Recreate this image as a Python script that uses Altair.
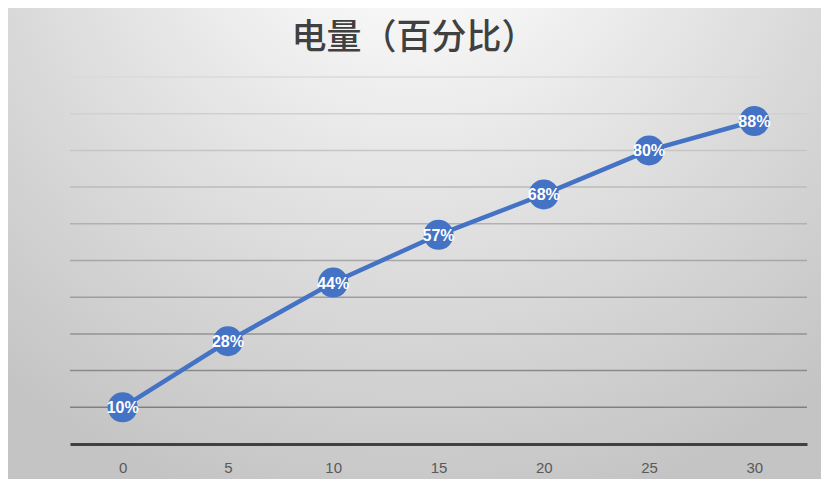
import altair as alt
import pandas as pd

minutes = [0, 5, 10, 15, 20, 25, 30]
charge = [10, 28, 44, 57, 68, 80, 88]
labels = ["10%", "28%", "44%", "57%", "68%", "80%", "88%"]
grid_values = [10, 20, 30, 40, 50, 60, 70, 80, 90, 100]
title_text = "电量（百分比）"

df = pd.DataFrame({"t": minutes, "v": charge, "lab": labels})
gdf = pd.DataFrame({"g": grid_values})
one = pd.DataFrame({"title": [title_text]})

W, H = 737, 367
PL, PT, PR, PB = 62, 69, 14, 35

xenc = alt.X(
    "t:O",
    scale=alt.Scale(type="point", padding=0.5),
    axis=alt.Axis(
        labelAngle=0, ticks=False, domainColor="#404040", domainWidth=3,
        labelColor="#595959", labelFontSize=15, labelFont="Liberation Sans",
        labelPadding=16, title=None, grid=False, zindex=1,
    ),
)
yscale = alt.Scale(domain=[0, 100], nice=False, zero=True)

bg = alt.Chart(one).mark_rect(
    fill={
        "gradient": "radial",
        "x1": 0.5, "y1": 0.05, "r1": 0,
        "x2": 0.5, "y2": 0.05, "r2": 0.8,
        "stops": [
            {"offset": 0, "color": "#ffffff"},
            {"offset": 0.2, "color": "#f7f7f7"},
            {"offset": 0.45, "color": "#e6e6e6"},
            {"offset": 0.7, "color": "#d6d6d6"},
            {"offset": 1, "color": "#c4c4c4"},
        ],
    }
).encode(
    x=alt.value(-PL), x2=alt.value(W + PR),
    y=alt.value(-PT), y2=alt.value(H + PB),
)

title = alt.Chart(one).mark_text(
    font="Noto Sans CJK SC", fontSize=35, fontWeight=500, color="#404040",
    align="center", baseline="middle",
).encode(x=alt.value(344), y=alt.value(-39), text="title:N")

grid = alt.Chart(gdf).mark_rule(strokeWidth=1.5).encode(
    y=alt.Y("g:Q", scale=yscale, axis=None),
    color=alt.Color("g:Q", scale=alt.Scale(domain=[10, 100], range=["#808080", "#dadada"]), legend=None),
)

line = alt.Chart(df).mark_line(color="#4472C4", strokeWidth=4.5).encode(
    x=xenc, y=alt.Y("v:Q", scale=yscale, axis=None)
)
pts = alt.Chart(df).mark_circle(color="#4472C4", opacity=1, size=900).encode(
    x=xenc, y=alt.Y("v:Q", scale=yscale, axis=None)
)
txt = alt.Chart(df).mark_text(
    color="white", fontWeight="bold", fontSize=16, font="Liberation Sans",
    align="center", baseline="middle", dy=1,
).encode(x=xenc, y=alt.Y("v:Q", scale=yscale, axis=None), text="lab:N")

chart = alt.layer(bg, title, grid, line, pts, txt).resolve_scale(color="independent").properties(
    width=W, height=H,
    autosize=alt.AutoSizeParams(type="none"),
    padding={"left": PL, "top": PT, "right": PR, "bottom": PB},
).configure_view(stroke=None).configure(background="#c8c8c8")

chart.save("out.html", embed_options={"renderer": "svg", "actions": False})
